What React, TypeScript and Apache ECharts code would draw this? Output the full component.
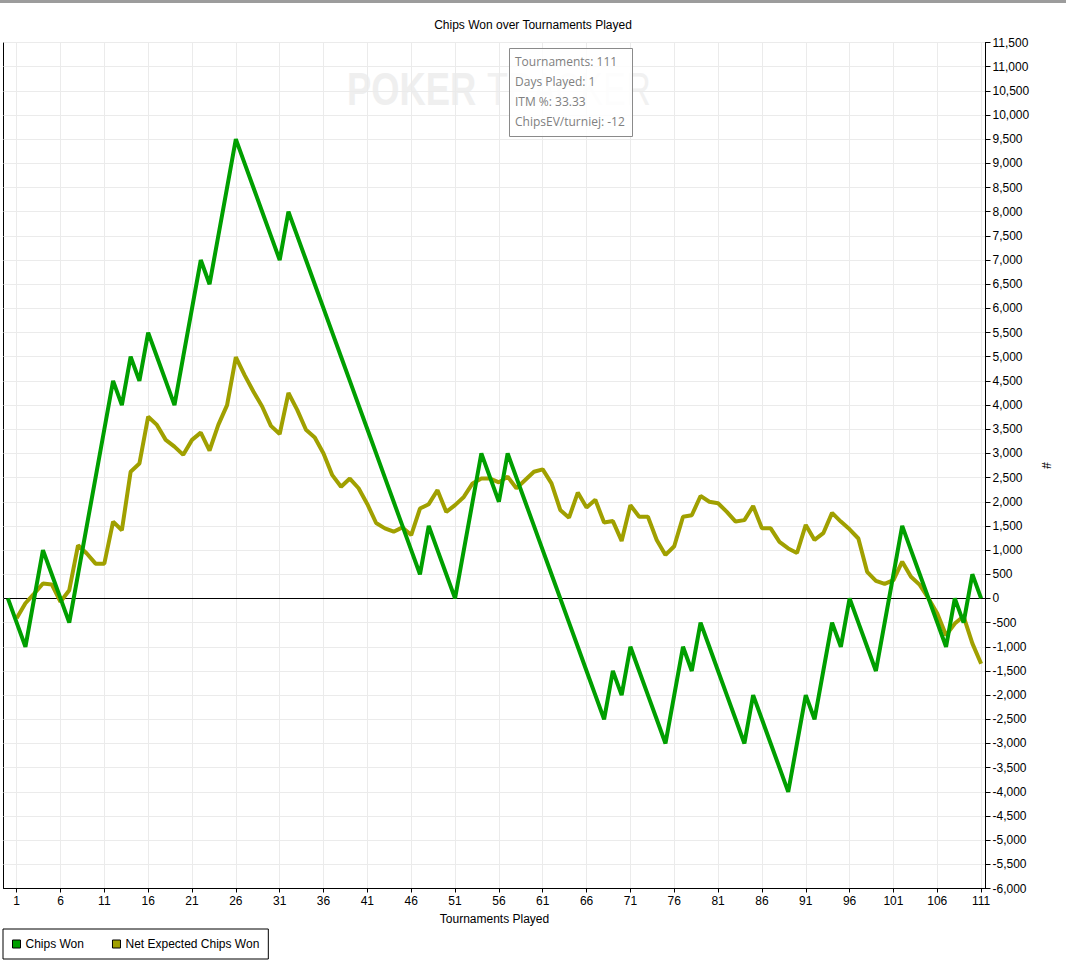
import React, { useEffect, useRef } from "react";
import * as echarts from "echarts";

// Cumulative chips won, tournament 0..111
const chipsWon: number[] = [
  0, -500, -1000, 0, 1000, 500, 0, -500, 500, 1500,
  2500, 3500, 4500, 4000, 5000, 4500, 5500, 5000, 4500, 4000,
  5000, 6000, 7000, 6500, 7500, 8500, 9500, 9000, 8500, 8000,
  7500, 7000, 8000, 7500, 7000, 6500, 6000, 5500, 5000, 4500,
  4000, 3500, 3000, 2500, 2000, 1500, 1000, 500, 1500, 1000,
  500, 0, 1000, 2000, 3000, 2500, 2000, 3000, 2500, 2000,
  1500, 1000, 500, 0, -500, -1000, -1500, -2000, -2500, -1500,
  -2000, -1000, -1500, -2000, -2500, -3000, -2000, -1000, -1500, -500,
  -1000, -1500, -2000, -2500, -3000, -2000, -2500, -3000, -3500, -4000,
  -3000, -2000, -2500, -1500, -500, -1000, 0, -500, -1000, -1500,
  -500, 500, 1500, 1000, 500, 0, -500, -1000, 0, -500,
  500, 0,
];

// Net expected chips won, tournament 1..111
const netExpected: number[] = [
  -410, -100, 100, 310, 290, -70, 170, 1100, 930, 720,
  720, 1590, 1410, 2620, 2790, 3760, 3590, 3280, 3140, 2970,
  3280, 3430, 3060, 3590, 4000, 4990, 4620, 4280, 3970, 3570,
  3400, 4250, 3900, 3490, 3330, 3000, 2550, 2310, 2480, 2280,
  1950, 1560, 1450, 1380, 1470, 1310, 1860, 1950, 2240, 1790,
  1930, 2100, 2380, 2480, 2480, 2400, 2520, 2280, 2450, 2620,
  2670, 2380, 1830, 1670, 2190, 1880, 2040, 1570, 1600, 1190,
  1930, 1690, 1690, 1210, 900, 1080, 1690, 1720, 2120, 2000,
  1970, 1790, 1590, 1620, 1910, 1450, 1450, 1170, 1035, 940,
  1520, 1210, 1350, 1770, 1590, 1430, 1240, 550, 365, 300,
  380, 760, 450, 280, 0, -310, -760, -520, -370, -930,
  -1350,
];

const xTickValues: number[] = [
  1, 6, 11, 16, 21, 26, 31, 36, 41, 46, 51, 56, 61, 66, 71, 76, 81, 86, 91, 96, 101, 106, 111,
];

const infoLines: string[] = [
  "Tournaments: 111",
  "Days Played: 1",
  "ITM %: 33.33",
  "ChipsEV/turniej: -12",
];

const seriesNames: string[] = ["Chips Won", "Net Expected Chips Won"];
const titleText = "Chips Won over Tournaments Played";
const xAxisName = "Tournaments Played";
const yAxisName = "#";

const GREEN = "#009f00";
const OLIVE = "#a0a000";
const FONT = "Liberation Sans";

export default function App() {
  const ref = useRef<HTMLDivElement>(null);

  useEffect(() => {
    if (!ref.current) return;
    const chart = echarts.init(ref.current, undefined, { renderer: "svg" });

    const graphic: any[] = [
      {
        type: "rect",
        x: 0,
        y: 0,
        shape: { width: 1066, height: 3 },
        style: { fill: "#9c9c9c" },
        z: 0,
      },
      {
        type: "text",
        x: 347,
        y: 66,
        scaleX: 0.79,
        style: {
          text: "POKER",
          font: `bold 46px "${FONT}"`,
          fill: "#efefef",
        },
        z: 0,
      },
      {
        type: "text",
        x: 487,
        y: 66,
        scaleX: 0.745,
        style: {
          text: "TRACKER",
          font: `46px "${FONT}"`,
          fill: "#f1f1f1",
        },
        z: 0,
      },
      {
        type: "rect",
        x: 509.5,
        y: 48.5,
        shape: { width: 123, height: 88 },
        style: { fill: "rgba(255,255,255,0.85)", stroke: "#8a8a8a", lineWidth: 1 },
        z: 100,
      },
      ...infoLines.map((t, i) => ({
        type: "text",
        x: 515,
        y: 61 + i * 20,
        style: {
          text: t,
          font: '12px "Open Sans"',
          fill: "#808080",
          verticalAlign: "middle",
        },
        z: 101,
      })),
    ];

    chart.setOption({
      animation: false,
      backgroundColor: "#ffffff",
      title: {
        text: titleText,
        left: "center",
        top: 14,
        textStyle: { fontSize: 12, fontWeight: "normal", color: "#000", fontFamily: FONT },
      },
      grid: {
        left: 3.5,
        right: 80.5,
        top: 42.5,
        bottom: 78.5,
        show: true,
        borderColor: "#000",
        borderWidth: 1,
        backgroundColor: "transparent",
      },
      legend: {
        data: seriesNames,
        left: 3,
        top: 929,
        orient: "horizontal",
        borderColor: "#000",
        borderWidth: 1,
        padding: [9, 9, 9, 9],
        itemGap: 28,
        itemWidth: 8,
        itemHeight: 8,
        icon: "rect",
        itemStyle: { borderColor: "#000", borderWidth: 1 },
        textStyle: { fontSize: 12, color: "#000", fontFamily: FONT },
      },
      xAxis: {
        type: "value",
        min: -0.5,
        max: 111.5,
        name: xAxisName,
        nameLocation: "middle",
        nameGap: 24,
        nameTextStyle: { fontSize: 12, color: "#000", fontFamily: FONT },
        axisLine: { show: true, onZero: false, lineStyle: { color: "#000", width: 1 } },
        axisTick: { show: true, length: 4, customValues: xTickValues, lineStyle: { color: "#000" } },
        axisLabel: {
          customValues: xTickValues,
          fontSize: 12,
          color: "#000",
          fontFamily: FONT,
          margin: 6,
        },
        splitLine: { show: true, lineStyle: { color: "#ebebeb", width: 1 } },
      },
      yAxis: {
        type: "value",
        position: "right",
        min: -6000,
        max: 11500,
        interval: 500,
        name: yAxisName,
        nameLocation: "middle",
        nameGap: 53,
        nameRotate: -90,
        nameTextStyle: { fontSize: 12, color: "#000", fontFamily: FONT },
        axisLine: { show: true, onZero: false, lineStyle: { color: "#000", width: 1 } },
        axisTick: { show: true, inside: false, length: 5, lineStyle: { color: "#000" } },
        axisLabel: {
          fontSize: 12,
          color: "#000",
          fontFamily: FONT,
          margin: 7,
          formatter: (v: number) => v.toLocaleString("en-US"),
        },
        splitLine: { show: true, lineStyle: { color: "#ebebeb", width: 1 } },
      },
      graphic,
      series: [
        {
          name: seriesNames[0],
          type: "line",
          data: chipsWon.map((v, i) => [i, v]),
          symbol: "none",
          showSymbol: false,
          lineStyle: { width: 4, color: GREEN },
          itemStyle: { color: GREEN },
          z: 4,
          silent: true,
        },
        {
          name: seriesNames[1],
          type: "line",
          data: netExpected.map((v, i) => [i + 1, v]),
          symbol: "none",
          showSymbol: false,
          lineStyle: { width: 4, color: OLIVE },
          itemStyle: { color: OLIVE },
          z: 3,
          silent: true,
          markLine: {
            silent: true,
            symbol: ["none", "none"],
            label: { show: false },
            lineStyle: { color: "#000", width: 1, type: "solid" },
            emphasis: { disabled: true },
            data: [{ yAxis: 0 }],
            z: 1,
          },
        },
      ],
    });

    return () => chart.dispose();
  }, []);

  return (
    <div
      ref={ref}
      style={{ position: "fixed", left: 0, top: 0, width: 1066, height: 967 }}
    />
  );
}
